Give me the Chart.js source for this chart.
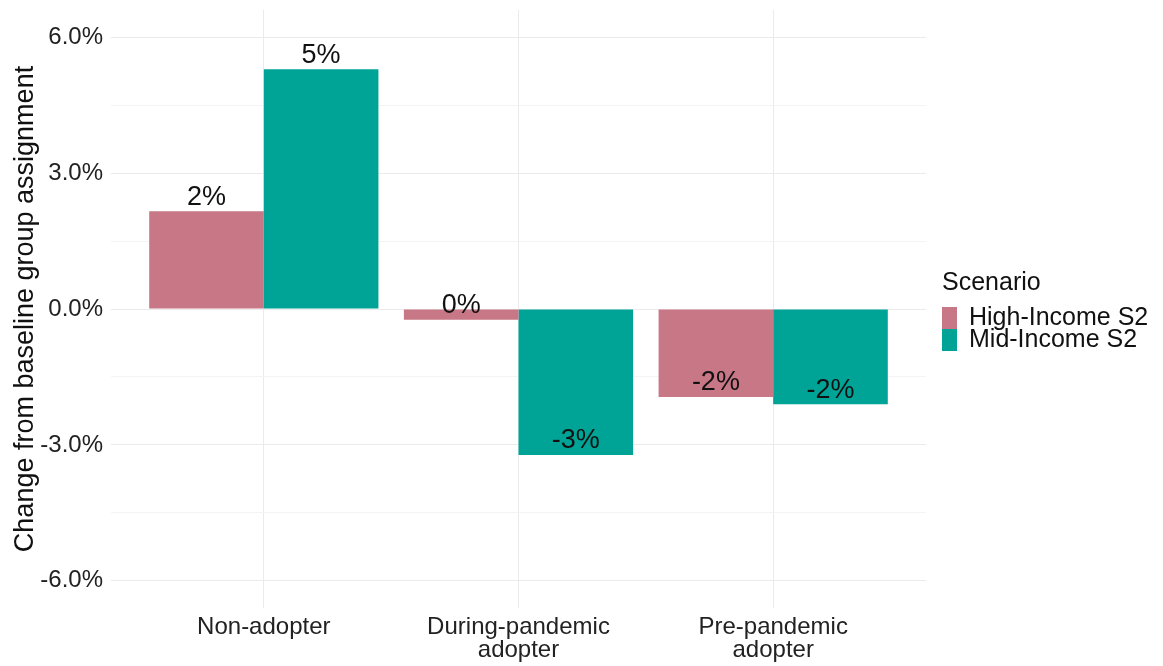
<!DOCTYPE html>
<html>
<head>
<meta charset="utf-8">
<script src="https://cdn.jsdelivr.net/npm/chart.js@4"></script>
<style>
  html, body { margin: 0; padding: 0; background: #ffffff; }
  #wrap { width: 1163px; height: 666px; }
</style>
</head>
<body>
<div id="wrap"><canvas id="chart" width="1163" height="666"></canvas></div>
<script>
// Adoption groups (multi-line tick labels)
const categories = [['Non-adopter'], ['During-pandemic', 'adopter'], ['Pre-pandemic', 'adopter']];
// Scenario series: change from baseline group assignment, in percent
const seriesNames = ['High-Income S2', 'Mid-Income S2'];
const highIncome = [2.16, -0.24, -1.94];
const midIncome = [5.29, -3.22, -2.10];
const seriesColors = ['#C77786', '#00A497'];
// Y gridlines: labelled majors every 3%, unlabelled minors in between
const yTicks = [-6, -4.5, -3, -1.5, 0, 1.5, 3, 4.5, 6];
const yTitle = 'Change from baseline group assignment';
const legendTitle = 'Scenario';

const FONT = '"Liberation Sans", Arial, Helvetica, sans-serif';

// Value labels at the end of each bar, rounded to whole percent
const barLabels = {
  id: 'barLabels',
  afterDatasetsDraw(chart) {
    const ctx = chart.ctx;
    ctx.save();
    ctx.font = '27px ' + FONT;
    ctx.fillStyle = '#111111';
    ctx.textAlign = 'center';
    ctx.textBaseline = 'middle';
    chart.data.datasets.forEach((ds, di) => {
      const meta = chart.getDatasetMeta(di);
      meta.data.forEach((bar, i) => {
        const r = Math.round(ds.data[i].y);
        ctx.fillText(`${r === 0 ? 0 : r}%`, bar.x, bar.y - 14);
      });
    });
    ctx.restore();
  }
};

// Legend on the right: title plus stacked colour keys
const sideLegend = {
  id: 'sideLegend',
  afterDraw(chart) {
    const ctx = chart.ctx;
    const x0 = chart.chartArea.right + 16;
    ctx.save();
    ctx.font = '25px ' + FONT;
    ctx.textAlign = 'left';
    ctx.textBaseline = 'middle';
    ctx.fillStyle = '#111111';
    ctx.fillText(legendTitle, x0, 283);
    chart.data.datasets.forEach((ds, i) => {
      const top = 307 + i * 22;
      ctx.fillStyle = ds.backgroundColor;
      ctx.fillRect(x0, top, 15, 22);
      ctx.fillStyle = '#111111';
      ctx.fillText(ds.label, x0 + 27, top + 11);
    });
    ctx.restore();
  }
};

const toPoints = vals => vals.map((v, i) => ({ x: i, y: v }));

new Chart(document.getElementById('chart'), {
  type: 'bar',
  data: {
    datasets: [
      { label: seriesNames[0], data: toPoints(highIncome), backgroundColor: seriesColors[0] },
      { label: seriesNames[1], data: toPoints(midIncome), backgroundColor: seriesColors[1] }
    ]
  },
  options: {
    responsive: false,
    devicePixelRatio: 1,
    animation: false,
    layout: { padding: { top: 10, right: 237, bottom: 0, left: 0 } },
    datasets: { bar: { categoryPercentage: 0.9, barPercentage: 1.0, borderWidth: 0 } },
    plugins: {
      legend: { display: false },
      tooltip: { enabled: false }
    },
    scales: {
      x: {
        type: 'linear',
        min: -0.6,
        max: 2.6,
        offset: false,
        afterBuildTicks: s => { s.ticks = categories.map((_, i) => ({ value: i })); },
        afterFit: s => { s.height = 58; s.paddingLeft = 0; s.paddingRight = 0; },
        ticks: {
          autoSkip: false,
          maxRotation: 0,
          padding: 8,
          color: '#222222',
          font: { family: FONT, size: 24, lineHeight: 0.96 },
          callback: v => categories[v]
        },
        grid: { offset: false, color: '#EBEBEB', lineWidth: 1, drawTicks: false },
        border: { display: false }
      },
      y: {
        min: -6.6,
        max: 6.6,
        afterBuildTicks: s => { s.ticks = yTicks.map(v => ({ value: v })); },
        afterFit: s => { s.width = 111; s.paddingTop = 0; s.paddingBottom = 0; },
        ticks: {
          padding: 8,
          color: '#222222',
          font: { family: FONT, size: 24 },
          callback: v => (v % 3 === 0 ? v.toFixed(1) + '%' : '')
        },
        grid: {
          color: ctx => (ctx.tick && ctx.tick.value % 3 === 0 ? '#EBEBEB' : '#F4F4F4'),
          lineWidth: 1,
          drawTicks: false
        },
        border: { display: false },
        title: {
          display: true,
          text: yTitle,
          color: '#111111',
          font: { family: FONT, size: 27 },
          padding: { top: 9, bottom: 0 }
        }
      }
    }
  },
  plugins: [barLabels, sideLegend]
});
</script>
</body>
</html>
